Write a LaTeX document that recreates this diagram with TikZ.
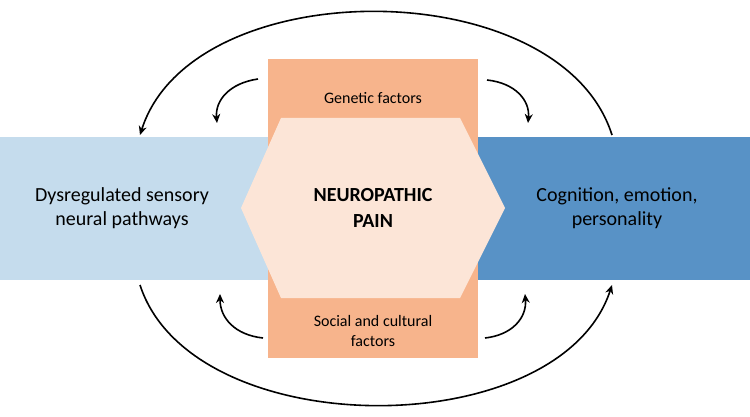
\documentclass[tikz,border=0pt]{standalone}
\usepackage{fontspec}
\setmainfont{Carlito}
\usetikzlibrary{arrows.meta}
\definecolor{lblue}{RGB}{197,220,237}
\definecolor{dblue}{RGB}{88,146,198}
\definecolor{orng}{RGB}{247,180,140}
\definecolor{peach}{RGB}{252,229,215}
\begin{document}
\begin{tikzpicture}[x=1pt,y=-1pt,
  arr/.style={line width=1.6pt,-{Stealth[length=9pt,width=8pt]}},
  lab/.style={font=\fontsize{20}{24}\selectfont,align=center},
  small/.style={font=\fontsize{16}{20}\selectfont,align=center}]
\useasboundingbox (0,0) rectangle (750,417);
\fill[lblue] (0,137) rectangle (290,280);
\fill[dblue] (460,137) rectangle (750,280);
\fill[orng] (268,59) rectangle (478,358);
\fill[peach] (281,118) -- (460,118) -- (505,208) -- (460,298) -- (281,298) -- (241,208) -- cycle;
\node[lab] (l) at (122,208) {Dysregulated sensory\\neural pathways};
\node[lab] (r) at (617,208) {Cognition, emotion,\\personality};
\node[lab,font=\fontsize{20}{26}\selectfont\bfseries] (c) at (373,208) {NEUROPATHIC\\PAIN};
\node[small] (g) at (373,98) {Genetic factors};
\node[small] (s) at (373,331) {Social and cultural\\factors};
\coordinate (a1) at (612,135); \coordinate (a2) at (140,135);
\coordinate (b1) at (140,285); \coordinate (b2) at (612,285);
\draw[arr] (a1) .. controls (560,-29) and (192,-29) .. (a2);
\draw[arr] (b1) .. controls (192,445) and (560,445) .. (b2);
\coordinate (t1s) at (258,79); \coordinate (t1e) at (217,123);
\coordinate (t2s) at (487,80); \coordinate (t2e) at (528,123);
\coordinate (t3s) at (263,338); \coordinate (t3e) at (220,294);
\coordinate (t4s) at (485,338); \coordinate (t4e) at (525,294);
\draw[arr] (t1s) .. controls (230,83) and (215,100) .. (t1e);
\draw[arr] (t2s) .. controls (515,83) and (530,100) .. (t2e);
\draw[arr] (t3s) .. controls (235,335) and (220,318) .. (t3e);
\draw[arr] (t4s) .. controls (512,335) and (527,318) .. (t4e);
\end{tikzpicture}
\end{document}
